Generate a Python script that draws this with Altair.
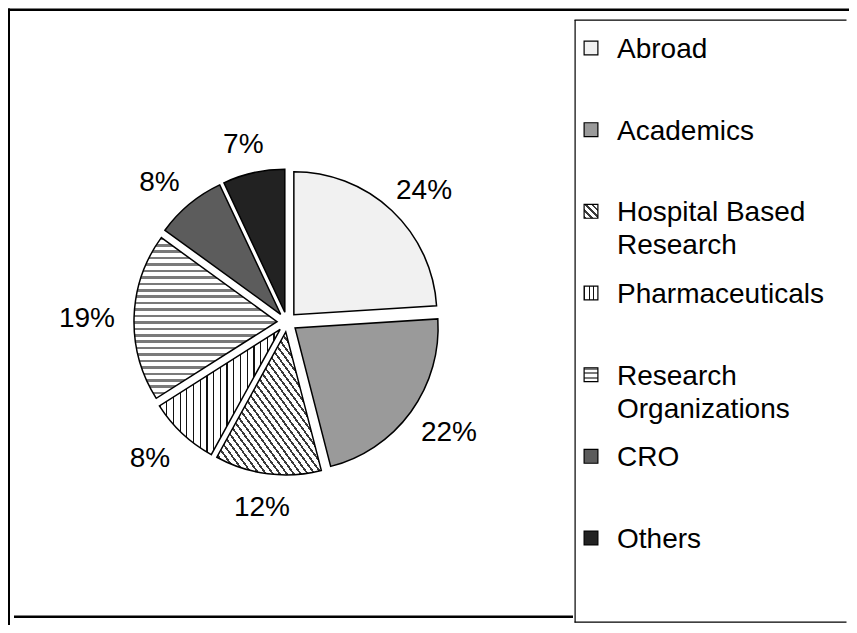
import altair as alt
import pandas as pd

# ---------------- data ----------------
categories = ["Abroad", "Academics", "Hospital Based Research", "Pharmaceuticals",
              "Research Organizations", "CRO", "Others"]
legend_labels = ["Abroad", "Academics", "Hospital Based\nResearch", "Pharmaceuticals",
                 "Research\nOrganizations", "CRO", "Others"]
values = [24, 22, 12, 8, 19, 8, 7]

ends = pd.Series(values).cumsum()
df = pd.DataFrame({
    "cat": categories,
    "label": legend_labels,
    "value": values,
    "start": (ends - pd.Series(values)).tolist(),
    "end": ends.tolist(),
})
df["pct"] = [f"{v}%" for v in values]

FONT = "Liberation Sans"
W, H = 841, 617


# ---------------- pattern look-alikes (stripe gradients) ----------------
def stripes(x1, y1, x2, y2, n, line, frac, bg="white"):
    stops = []
    for i in range(n):
        a = i / n
        b = (i + frac) / n
        c = (i + 1) / n
        stops += [
            {"offset": a, "color": line},
            {"offset": b, "color": line},
            {"offset": b, "color": bg},
            {"offset": c, "color": bg},
        ]
    return {"gradient": "linear", "x1": x1, "y1": y1, "x2": x2, "y2": y2, "stops": stops}


slice_fill = {
    "Abroad": "#f1f1f1",
    "Academics": "#9a9a9a",
    "Hospital Based Research": stripes(0, 1, 1, 0, 30, "#3a3a3a", 0.32),
    "Pharmaceuticals": stripes(0, 0, 1, 0, 18, "#111111", 0.18),
    "Research Organizations": stripes(0, 0, 0, 1, 25, "#7a7a7a", 0.4),
    "CRO": "#5c5c5c",
    "Others": "#222222",
}
legend_fill = {
    "Abroad": "#f1f1f1",
    "Academics": "#9a9a9a",
    "Hospital Based Research": stripes(0, 1, 1, 0, 4, "#3a3a3a", 0.35),
    "Pharmaceuticals": stripes(0, 0, 1, 0, 3, "#111111", 0.25),
    "Research Organizations": stripes(0, 0, 0, 1, 3, "#7a7a7a", 0.4),
    "CRO": "#5c5c5c",
    "Others": "#222222",
}


def fill_enc(mapping):
    return {
        "condition": [{"test": f"datum.cat === '{c}'", "value": mapping[c]} for c in categories],
        "value": "white",
    }


# ---------------- scales ----------------
R = 143
CX, CY = 279, 314
xs = alt.Scale(domain=[-1, 1], range=[CX - R, CX + R])
ys = alt.Scale(domain=[-1, 1], range=[CY + R, CY - R])

base = alt.Chart(df).transform_calculate(
    ang="((datum.start + datum.end) / 2) / 100 * 2 * PI",
).transform_calculate(
    ox="0.07 * sin(datum.ang)",
    oy="0.07 * cos(datum.ang)",
    lx="1.40 * sin(datum.ang)",
    ly="1.29 * cos(datum.ang)",
)

slices = base.mark_arc(radius=R, stroke="black", strokeWidth=1.5).encode(
    x=alt.X("ox:Q", scale=xs, axis=None),
    y=alt.Y("oy:Q", scale=ys, axis=None),
    theta=alt.Theta("start:Q", scale=alt.Scale(domain=[0, 100], range=[0, 6.283185307179586]), stack=None),
    theta2=alt.Theta2("end:Q"),
    fill=fill_enc(slice_fill),
)

pct_labels = base.mark_text(font=FONT, fontSize=28, align="center", baseline="middle",
                            dy=3, color="black").encode(
    x=alt.X("lx:Q", scale=xs, axis=None),
    y=alt.Y("ly:Q", scale=ys, axis=None),
    text="pct:N",
)

# ---------------- legend ----------------
ly_scale = alt.Scale(domain=categories, range=[40, 530], type="point", padding=0)

leg_sym = alt.Chart(df).mark_square(size=190, stroke="black", strokeWidth=1.2, opacity=1).encode(
    x=alt.value(583),
    y=alt.Y("cat:N", scale=ly_scale, axis=None, sort=categories),
    fill=fill_enc(legend_fill),
)

leg_txt = alt.Chart(df).mark_text(font=FONT, fontSize=28, align="left", baseline="alphabetic",
                                  dy=10, lineBreak="\n", lineHeight=33, color="black").encode(
    x=alt.value(609),
    y=alt.Y("cat:N", scale=ly_scale, axis=None, sort=categories),
    text="label:N",
)

# ---------------- frame lines (thin filled rects) ----------------
one = pd.DataFrame({"k": [0]})


def bar(x1, x2, y1, y2, color="black"):
    return alt.Chart(one).mark_rect(color=color, strokeWidth=0).encode(
        x=alt.value(x1), x2=alt.value(x2), y=alt.value(y1), y2=alt.value(y2))


frame = [
    bar(0, W + 12, 0.5, 3),            # top thick line
    bar(0, 2, 0.5, H),                 # left line
    bar(6, 565, 607.5, 610),           # bottom thick line
    bar(566.5, 567.7, 12, 614.5),      # legend box left
    bar(566.5, W + 12, 11.5, 12.7),    # legend box top
    bar(566.5, W + 12, 613.5, 614.7),  # legend box bottom
    bar(W - 2.5, W + 6, 3, H + 6, color="white"),  # hide stray edge line at the right border
]

chart = alt.layer(slices, pct_labels, leg_sym, leg_txt, *frame).resolve_scale(
    x="independent", y="independent"
).properties(
    width=W, height=H, padding=0, autosize="none", background="white"
).configure_view(strokeWidth=0, stroke="transparent")

chart.save("out.html", embed_options={"renderer": "svg", "actions": False})
